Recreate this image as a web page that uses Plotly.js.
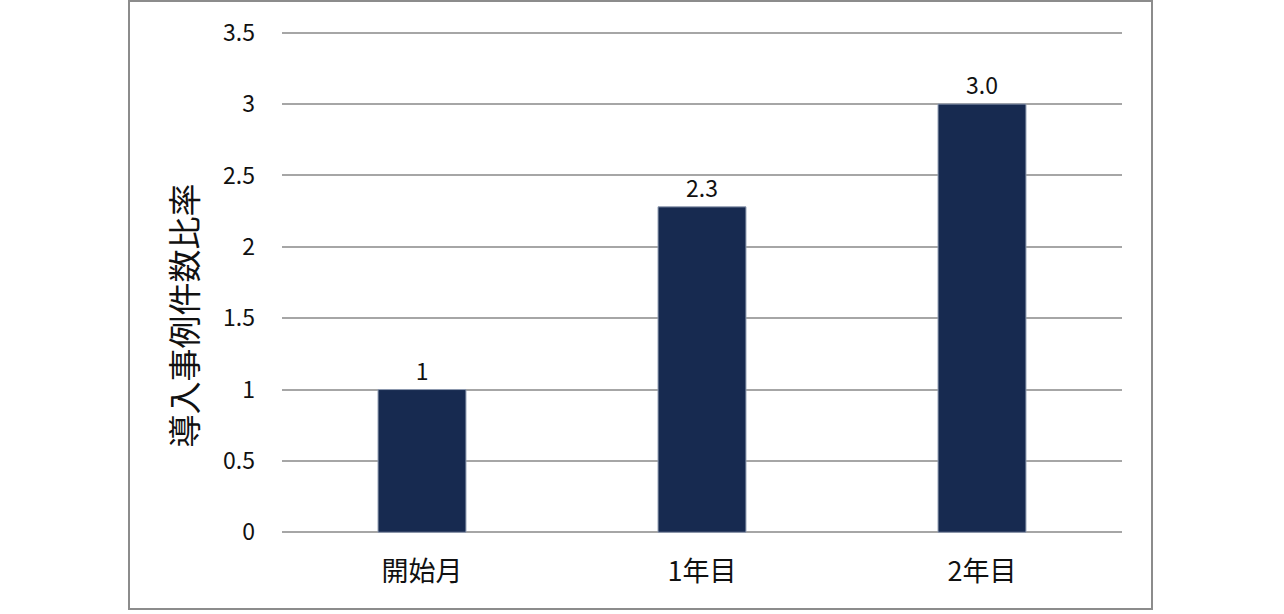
<!DOCTYPE html>
<html>
<head>
<meta charset="utf-8">
<script src="https://cdn.plot.ly/plotly-3.0.1.min.js"></script>
<style>html,body{margin:0;padding:0;background:#fff;}#chart{width:1284px;height:614px;}</style>
</head>
<body>
<div id="chart"></div>
<script>
const categories = ['開始月', '1年目', '2年目'];
const values = [1, 2.28, 3.0];
const valueLabels = ['1', '2.3', '3.0'];
const yTickVals = [0, 0.5, 1, 1.5, 2, 2.5, 3, 3.5];
const yTickText = ['0', '0.5', '1', '1.5', '2', '2.5', '3', '3.5'];
const yTitle = '導入事例件数比率';

const FONT = '"Noto Sans CJK JP", "Noto Sans", sans-serif';

const W = 1284, H = 614;
const M = {l: 282, r: 162, t: 31, b: 80};
const plotW = W - M.l - M.r, plotH = H - M.t - M.b;
// outer frame in pixels
const frame = {left: 129, right: 1152, top: 1, bottom: 609};

const trace = {
  type: 'bar',
  x: categories,
  y: values,
  text: valueLabels,
  texttemplate: '%{text}',
  textposition: 'outside',
  cliponaxis: false,
  textfont: {family: FONT, size: 23, color: '#111'},
  marker: {color: '#172a50', line: {color: '#8e9ab0', width: 1}},
  width: 0.314,
  hoverinfo: 'none'
};

const layout = {
  width: W,
  height: H,
  margin: M,
  paper_bgcolor: '#ffffff',
  plot_bgcolor: '#ffffff',
  showlegend: false,
  font: {family: FONT, color: '#111'},
  xaxis: {
    type: 'category',
    showgrid: false,
    zeroline: false,
    showline: false,
    ticks: '',
    ticklabelstandoff: 19,
    tickfont: {family: FONT, size: 27, color: '#111'},
    automargin: false
  },
  yaxis: {
    range: [-0.012, 3.512],
    tickvals: yTickVals,
    ticktext: yTickText,
    showgrid: true,
    gridcolor: '#a6a6a6',
    gridwidth: 2,
    zeroline: false,
    showline: false,
    ticks: '',
    ticklabelstandoff: 26,
    tickfont: {family: FONT, size: 23, color: '#111'},
    title: {text: yTitle + '\u3000\u3000\u200b', font: {family: FONT, size: 33, color: '#111'}, standoff: 15},
    automargin: false
  },
  shapes: [{
    type: 'rect', xref: 'paper', yref: 'paper',
    x0: (frame.left - M.l) / plotW, x1: (frame.right - M.l) / plotW,
    y0: (H - M.b - frame.bottom) / plotH, y1: (H - M.b - frame.top) / plotH,
    line: {color: '#8c8c8c', width: 2},
    fillcolor: 'rgba(0,0,0,0)',
    layer: 'below'
  }]
};

Plotly.newPlot('chart', [trace], layout, {displayModeBar: false, staticPlot: true});
</script>
</body>
</html>
